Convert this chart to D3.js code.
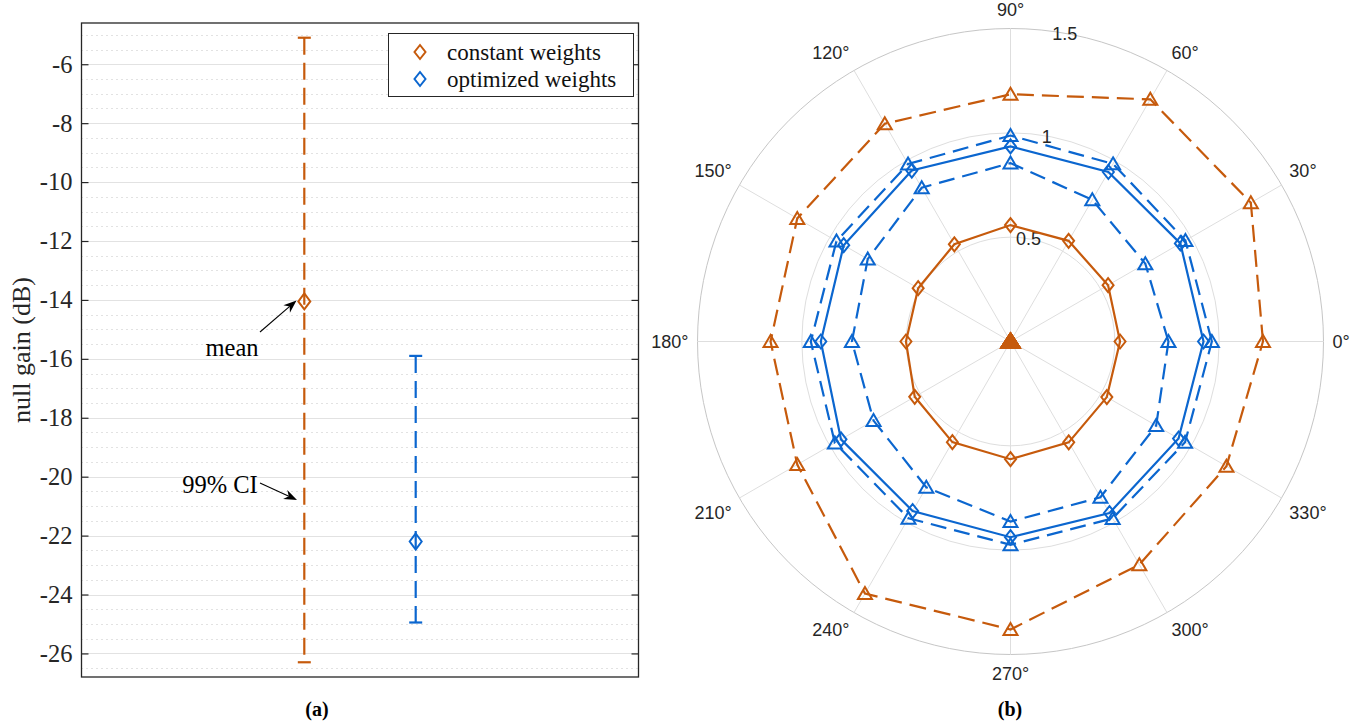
<!DOCTYPE html>
<html>
<head>
<meta charset="utf-8">
<script src="https://cdn.jsdelivr.net/npm/d3@7"></script>
<style>
  body { margin: 0; background: #fff; }
  svg { display: block; }
</style>
</head>
<body>
<svg id="fig" width="1369" height="724"></svg>
<script>
// ---------- (a) null gain, mean and 99% confidence interval ----------
const methods   = ["constant weights", "optimized weights"];
const methodX   = [1, 2];
const meanGain  = [-14.05, -22.2];
const ciLow     = [-26.3, -24.95];
const ciHigh    = [-5.1, -15.9];
const gainTicks = [-26, -24, -22, -20, -18, -16, -14, -12, -10, -8, -6];

// ---------- (b) polar gain pattern ----------
const anglesDeg  = [0, 30, 60, 90, 120, 150, 180, 210, 240, 270, 300, 330];
const constUpper = [1.21, 1.33, 1.34, 1.185, 1.205, 1.18, 1.15, 1.18, 1.395, 1.38, 1.235, 1.195];
const constMean  = [0.525, 0.54, 0.557, 0.558, 0.538, 0.511, 0.501, 0.53, 0.557, 0.564, 0.558, 0.533];
const constLower = [0, 0, 0, 0, 0, 0, 0, 0, 0, 0, 0, 0];
const optUpper   = [0.965, 0.968, 0.983, 0.987, 0.982, 0.963, 0.957, 0.972, 0.978, 0.974, 0.979, 0.966];
const optMean    = [0.925, 0.94, 0.938, 0.935, 0.946, 0.923, 0.909, 0.938, 0.938, 0.938, 0.949, 0.93];
const optLower   = [0.757, 0.746, 0.784, 0.855, 0.851, 0.79, 0.76, 0.758, 0.807, 0.863, 0.862, 0.806];
const radialTicks = [0.5, 1, 1.5];

const ORANGE = "#C65A0C";
const BLUE   = "#0B66CF";
const INK    = "#262626";
const SERIF  = "'Liberation Serif', 'Times New Roman', serif";
const SANS   = "'Liberation Sans', Arial, Helvetica, sans-serif";
const colors = [ORANGE, BLUE];

const svg = d3.select("#fig");

// marker shapes
function diamondPath(w, h) {
  return `M0,${-h/2}L${w/2},0L0,${h/2}L${-w/2},0Z`;
}
function trianglePath(hw, top, bot) {
  return `M0,${-top}L${hw},${bot}L${-hw},${bot}Z`;
}

// ================= panel (a) =================
const A = { left: 81.5, right: 638.5, top: 23, bottom: 677 };
const xA = d3.scaleLinear().domain([-1, 4]).range([A.left, A.right]);
const yA = d3.scaleLinear().domain([-26.8, -4.6]).range([A.bottom, A.top]);

const gA = svg.append("g");

// minor dotted grid every 0.5 dB
const minorVals = d3.range(-26.5, -4.6, 0.5).filter(v => Math.abs(v % 2) > 1e-9);
gA.append("g").selectAll("line").data(minorVals).join("line")
  .attr("x1", A.left).attr("x2", A.right)
  .attr("y1", d => Math.round(yA(d)) + 0.5).attr("y2", d => Math.round(yA(d)) + 0.5)
  .attr("stroke", "#c4c4c4").attr("stroke-width", 1).attr("stroke-dasharray", "1,4");

// major grid
gA.append("g").selectAll("line").data(gainTicks).join("line")
  .attr("x1", A.left).attr("x2", A.right)
  .attr("y1", d => Math.round(yA(d)) + 0.5).attr("y2", d => Math.round(yA(d)) + 0.5)
  .attr("stroke", "#e2e2e2").attr("stroke-width", 1);

// axes (ticks point inward)
const leftAxis = d3.axisLeft(yA).tickValues(gainTicks).tickSize(-7).tickSizeOuter(0)
  .tickPadding(9).tickFormat(d => d3.format("d")(d).replace("\u2212", "-"));
const gl = gA.append("g").attr("transform", `translate(${A.left},0)`).call(leftAxis);
gl.select(".domain").remove();
gl.selectAll(".tick line").attr("stroke", INK).attr("stroke-width", 1.2);
gl.selectAll(".tick text").attr("fill", INK).style("font-family", SERIF).style("font-size", "24.5px");

const rightAxis = d3.axisRight(yA).tickValues(gainTicks).tickSize(-7).tickSizeOuter(0).tickFormat("");
const gr = gA.append("g").attr("transform", `translate(${A.right},0)`).call(rightAxis);
gr.select(".domain").remove();
gr.selectAll(".tick line").attr("stroke", INK).attr("stroke-width", 1.2);

// box
gA.append("rect")
  .attr("x", A.left).attr("y", A.top)
  .attr("width", A.right - A.left).attr("height", A.bottom - A.top)
  .attr("fill", "none").attr("stroke", INK).attr("stroke-width", 1.3);

// error bars
const bars = gA.append("g");
methods.forEach((m, i) => {
  const x = xA(methodX[i]);
  const g = bars.append("g");
  g.append("line")
    .attr("x1", x).attr("x2", x)
    .attr("y1", yA(ciHigh[i])).attr("y2", yA(ciLow[i]))
    .attr("stroke", colors[i]).attr("stroke-width", 2.2).attr("stroke-dasharray", "17,8");
  [ciHigh[i], ciLow[i]].forEach(v => {
    g.append("line")
      .attr("x1", x - 6.5).attr("x2", x + 6.5)
      .attr("y1", yA(v)).attr("y2", yA(v))
      .attr("stroke", colors[i]).attr("stroke-width", 2.2);
  });
  g.append("path")
    .attr("d", diamondPath(12, 16))
    .attr("transform", `translate(${x},${yA(meanGain[i])})`)
    .attr("fill", "none").attr("stroke", colors[i]).attr("stroke-width", 2);
});

// y label
gA.append("text")
  .attr("transform", "translate(30,350) rotate(-90)")
  .attr("text-anchor", "middle")
  .attr("fill", INK)
  .style("font-family", SERIF).style("font-size", "26px")
  .text("null gain (dB)");

// legend
const lg = gA.append("g");
lg.append("rect").attr("x", 388.5).attr("y", 33.5).attr("width", 245).attr("height", 63)
  .attr("fill", "#fff").attr("stroke", INK).attr("stroke-width", 1);
methods.forEach((m, i) => {
  const yy = 52 + i * 27;
  lg.append("path").attr("d", diamondPath(11, 14))
    .attr("transform", `translate(420,${yy})`)
    .attr("fill", "none").attr("stroke", colors[i]).attr("stroke-width", 2);
  lg.append("text").attr("x", 447).attr("y", yy).attr("dy", "0.33em")
    .attr("fill", "#111")
    .style("font-family", SERIF).style("font-size", "23px")
    .text(m);
});

// annotations with arrows
function arrow(g, x1, y1, x2, y2) {
  const ang = Math.atan2(y2 - y1, x2 - x1);
  const L = 13, W = 5, notch = 9;
  g.append("line").attr("x1", x1).attr("y1", y1)
    .attr("x2", x2 - Math.cos(ang) * notch).attr("y2", y2 - Math.sin(ang) * notch)
    .attr("stroke", "#000").attr("stroke-width", 1.1);
  const pts = [[0, 0], [-L, -W], [-notch, 0], [-L, W]].map(([u, v]) => [
    x2 + u * Math.cos(ang) - v * Math.sin(ang),
    y2 + u * Math.sin(ang) + v * Math.cos(ang)
  ]);
  g.append("path").attr("d", "M" + pts.join("L") + "Z").attr("fill", "#000");
}
const ann = gA.append("g");
ann.append("text").attr("x", 232).attr("y", 356).attr("text-anchor", "middle")
  .attr("fill", "#000").style("font-family", SERIF).style("font-size", "24.5px").text("mean");
arrow(ann, 260, 332, 296.5, 300.5);
ann.append("text").attr("x", 220).attr("y", 493).attr("text-anchor", "middle")
  .attr("fill", "#000").style("font-family", SERIF).style("font-size", "24.5px").text("99% CI");
arrow(ann, 260, 483, 297, 500);

svg.append("text").attr("x", 317).attr("y", 716).attr("text-anchor", "middle")
  .attr("fill", "#000").style("font-family", SERIF).style("font-size", "20px").style("font-weight", "bold")
  .text("(a)");

// ================= panel (b) =================
const cx = 1010.5, cy = 341.5, R = 313;
const rB = d3.scaleLinear().domain([0, 1.5]).range([0, R]);
const gB = svg.append("g").attr("transform", `translate(${cx},${cy})`);
const toRad = d => d * Math.PI / 180;

// rings and spokes
gB.append("g").selectAll("circle").data(radialTicks).join("circle")
  .attr("r", d => rB(d)).attr("fill", "none")
  .attr("stroke", d => d === 1.5 ? "#c6c6c6" : "#dedede").attr("stroke-width", 1);
gB.append("g").selectAll("line").data(anglesDeg).join("line")
  .attr("x1", 0).attr("y1", 0)
  .attr("x2", d => rB(1.5) * Math.cos(toRad(d)))
  .attr("y2", d => -rB(1.5) * Math.sin(toRad(d)))
  .attr("stroke", "#dedede").attr("stroke-width", 1);

// angle labels
gB.append("g").selectAll("text").data(anglesDeg).join("text")
  .each(function (d) {
    const t = toRad(d), c = Math.cos(t), s = Math.sin(t);
    const rr = R + 9;
    const px = rr * c, py = -rr * s;
    const anchor = c > 0.01 ? "start" : (c < -0.01 ? "end" : "middle");
    let by;
    if (s > 0.01) by = py - 4;
    else if (s < -0.01) by = py + 16;
    else by = py + 6.5;
    d3.select(this).attr("x", px).attr("y", by).attr("text-anchor", anchor);
  })
  .attr("fill", INK).style("font-family", SANS).style("font-size", "18px")
  .text(d => d + "\u00B0");

// radial tick labels along 80 degrees
gB.append("g").selectAll("text").data(radialTicks).join("text")
  .attr("x", d => rB(d) * Math.cos(toRad(80)))
  .attr("y", d => -rB(d) * Math.sin(toRad(80)) + 6.5)
  .attr("text-anchor", "middle")
  .attr("fill", INK).style("font-family", SANS).style("font-size", "18px")
  .text(d => d);

// series
const radial = d3.lineRadial()
  .angle(d => Math.PI / 2 - toRad(d.a))
  .radius(d => rB(d.r))
  .curve(d3.curveLinearClosed);

const series = [
  { r: constUpper, color: ORANGE, dash: "17,8", marker: "tri" },
  { r: constMean,  color: ORANGE, dash: null,   marker: "dia" },
  { r: optUpper,   color: BLUE,   dash: "16,8", marker: "tri" },
  { r: optMean,    color: BLUE,   dash: null,   marker: "dia" },
  { r: optLower,   color: BLUE,   dash: "16,8", marker: "tri" },
  { r: constLower, color: ORANGE, dash: "17,8", marker: "tri", filled: true }
];

series.forEach(s => {
  const pts = anglesDeg.map((a, i) => ({ a, r: s.r[i] }));
  const g = gB.append("g");
  g.append("path").attr("d", radial(pts))
    .attr("fill", "none").attr("stroke", s.color).attr("stroke-width", 2.2)
    .attr("stroke-dasharray", s.dash);
  g.selectAll("path.m").data(pts).join("path").attr("class", "m")
    .attr("d", s.marker === "tri"
      ? (s.filled ? trianglePath(9, 8, 6) : trianglePath(7, 6.5, 5.5))
      : diamondPath(11, 14))
    .attr("transform", d => `translate(${rB(d.r) * Math.cos(toRad(d.a))},${-rB(d.r) * Math.sin(toRad(d.a))})`)
    .attr("fill", s.filled ? s.color : "none")
    .attr("stroke", s.color).attr("stroke-width", 2);
});

svg.append("text").attr("x", 1010).attr("y", 716).attr("text-anchor", "middle")
  .attr("fill", "#000").style("font-family", SERIF).style("font-size", "20px").style("font-weight", "bold")
  .text("(b)");
</script>
</body>
</html>
